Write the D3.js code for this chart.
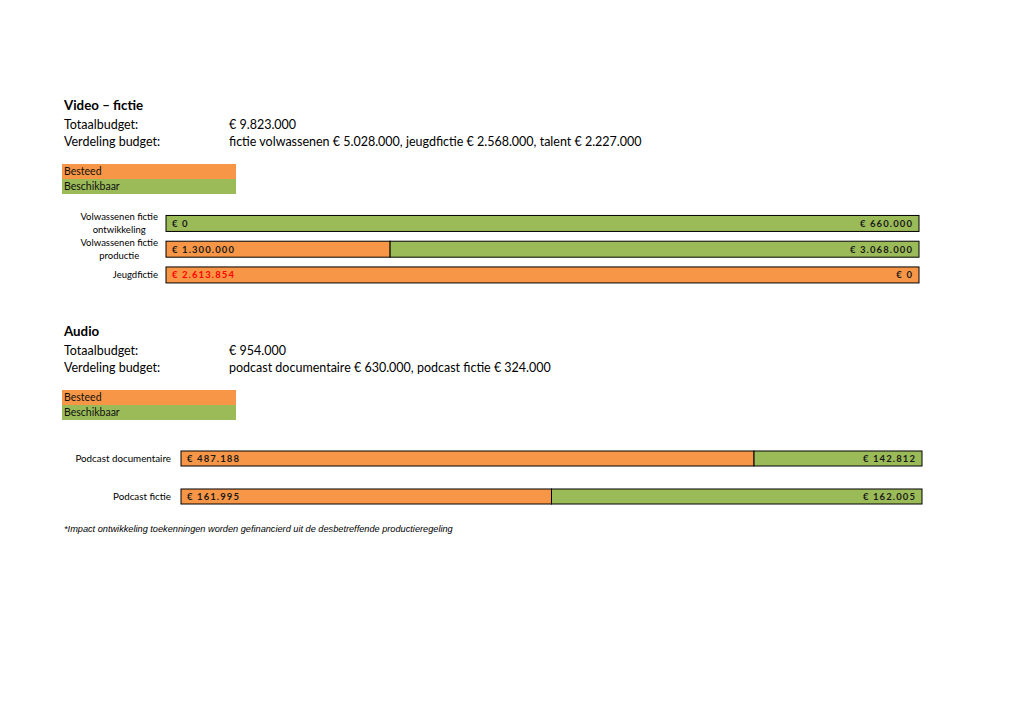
<!DOCTYPE html>
<html>
<head>
<meta charset="utf-8">
<script src="https://cdn.jsdelivr.net/npm/d3@7"></script>
<style>
  html, body { margin: 0; padding: 0; background: #fff; }
  svg { display: block; }
</style>
</head>
<body>
<svg id="chart" width="1024" height="726"></svg>
<script>
// ---- Data ----
const videoTitle = "Video – fictie";
const videoTotal = "€ 9.823.000";
const videoSplit = "fictie volwassenen € 5.028.000, jeugdfictie € 2.568.000, talent € 2.227.000";
const videoCategories = [["Volwassenen fictie", "ontwikkeling"], ["Volwassenen fictie", "productie"], ["Jeugdfictie"]];
const videoSpent = [0, 1300000, 2613854];
const videoAvailable = [660000, 3068000, 0];

const audioTitle = "Audio";
const audioTotal = "€ 954.000";
const audioSplit = "podcast documentaire € 630.000, podcast fictie € 324.000";
const audioCategories = [["Podcast documentaire"], ["Podcast fictie"]];
const audioSpent = [487188, 161995];
const audioAvailable = [142812, 162005];

const legendLabels = ["Besteed", "Beschikbaar"];
const footnote = "*Impact ontwikkeling toekenningen worden gefinancierd uit de desbetreffende productieregeling";

// ---- Style ----
const ORANGE = "#F79646", GREEN = "#9BBB59";
const svg = d3.select("#chart");
svg.append("rect").attr("width", 1024).attr("height", 726).attr("fill", "#fff");

const fmt = v => "€ " + d3.format(",")(v).replace(/,/g, ".");
const headFont = "Lato, 'Open Sans', sans-serif";

function header(y0, title, total, split) {
  svg.append("text").attr("x", 64).attr("y", y0).text(title)
    .attr("font-family", headFont).attr("font-weight", "bold").attr("font-size", 13.3).attr("fill", "#000");
  const rows = [["Totaalbudget:", total], ["Verdeling budget:", split]];
  rows.forEach((r, i) => {
    const y = y0 + 19 + i * 16.5;
    svg.append("text").attr("x", 64).attr("y", y).text(r[0])
      .attr("font-family", headFont).attr("font-size", 12.5).attr("fill", "#000");
    svg.append("text").attr("x", 229).attr("y", y).text(r[1])
      .attr("font-family", headFont).attr("font-size", 12.5).attr("fill", "#000");
  });
}

function legend(y0) {
  const colors = [ORANGE, GREEN];
  legendLabels.forEach((l, i) => {
    svg.append("rect").attr("x", 62).attr("y", y0 + i * 15).attr("width", 174).attr("height", 15).attr("fill", colors[i]);
    svg.append("text").attr("x", 64).attr("y", y0 + i * 15 + 11).text(l)
      .attr("font-family", headFont).attr("font-size", 10.5).attr("fill", "#111");
  });
}

function barChart(cats, spent, avail, xRange, yRange, padding, labelRight, labelSize) {
  const keys = cats.map(c => c.join(" "));
  const y = d3.scaleBand().domain(keys).range(yRange).padding(padding);
  const x = d3.scaleLinear().domain([0, 1]).range(xRange);
  const g = svg.append("g");
  keys.forEach((k, i) => {
    const total = spent[i] + avail[i];
    const fs = spent[i] / total;
    const by = y(k), bh = y.bandwidth();
    if (spent[i] > 0) {
      g.append("rect").attr("x", x(0)).attr("y", by).attr("width", x(fs) - x(0)).attr("height", bh)
        .attr("fill", ORANGE).attr("stroke", "#000").attr("stroke-width", 1);
    }
    if (avail[i] > 0) {
      g.append("rect").attr("x", x(fs)).attr("y", by).attr("width", x(1) - x(fs)).attr("height", bh)
        .attr("fill", GREEN).attr("stroke", "#000").attr("stroke-width", 1);
    }
    const ty = by + bh / 2 + 3.5;
    g.append("text").attr("x", x(0) + 6).attr("y", ty).text(fmt(spent[i]))
      .attr("font-family", "Lato, sans-serif").attr("font-weight", "bold").attr("font-size", 9.5)
      .attr("letter-spacing", 1.1)
      .attr("fill", (spent[i] > 0 && avail[i] === 0) ? "#FF0000" : "#1a1a1a");
    g.append("text").attr("x", x(1) - 6).attr("y", ty).text(fmt(avail[i]))
      .attr("text-anchor", "end")
      .attr("font-family", "Lato, sans-serif").attr("font-weight", "bold").attr("font-size", 9.5)
      .attr("letter-spacing", 1.1).attr("fill", "#1a1a1a");
    const lines = cats[i];
    const cy = by + bh / 2;
    const lg = g.append("g");
    const texts = lines.map((ln, j) => lg.append("text")
      .attr("y", cy + (j - (lines.length - 1) / 2) * 13 + 3.5)
      .text(ln).attr("font-family", "Lato, sans-serif").attr("font-size", labelSize).attr("fill", "#000")
      .attr("text-anchor", "middle"));
    const widths = texts.map(t => t.node().getComputedTextLength());
    const maxW = d3.max(widths);
    texts.forEach(t => t.attr("x", labelRight - maxW / 2));
  });
}

header(110, videoTitle, videoTotal, videoSplit);
legend(164);
barChart(videoCategories, videoSpent, videoAvailable, [166, 919], [205.7, 292.7], 0.379, 158, 9.5);

header(336, audioTitle, audioTotal, audioSplit);
legend(390);
barChart(audioCategories, audioSpent, audioAvailable, [181, 922], [428, 527], 0.605, 171, 9.8);

svg.append("text").attr("x", 64).attr("y", 532).text(footnote)
  .attr("font-family", "'Liberation Sans', Arial, sans-serif").attr("font-style", "italic")
  .attr("font-size", 9.2).attr("fill", "#000");
</script>
</body>
</html>
